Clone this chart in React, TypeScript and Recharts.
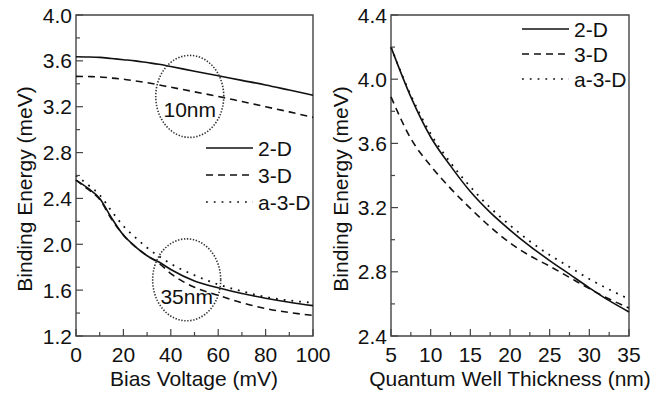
import React from 'react'
import {
  LineChart,
  Line,
  XAxis,
  YAxis,
  ReferenceArea,
  ReferenceDot,
  Legend,
} from 'recharts'

// left panel: binding energy vs bias voltage
const biasVoltage = [0, 5, 10, 15, 20, 25, 30, 35, 40, 50, 60, 70, 80, 90, 100]
const bias2D10nm = [3.636, 3.634, 3.63, 3.62, 3.61, 3.6, 3.585, 3.57, 3.55, 3.51, 3.47, 3.43, 3.39, 3.345, 3.3]
const bias3D10nm = [3.465, 3.463, 3.46, 3.45, 3.44, 3.425, 3.41, 3.39, 3.37, 3.33, 3.29, 3.245, 3.2, 3.155, 3.107]
const bias2D35nm = [2.56, 2.49, 2.4, 2.23, 2.08, 1.98, 1.9, 1.845, 1.78, 1.68, 1.62, 1.57, 1.53, 1.495, 1.465]
const bias3D35nm = [2.56, 2.48, 2.39, 2.22, 2.08, 1.98, 1.9, 1.835, 1.745, 1.625, 1.555, 1.49, 1.44, 1.405, 1.38]
const biasA3D35nm = [2.6, 2.52, 2.43, 2.29, 2.16, 2.06, 1.97, 1.895, 1.83, 1.73, 1.65, 1.59, 1.54, 1.51, 1.49]

// right panel: binding energy vs well thickness
const thickness = [5, 7.5, 10, 12.5, 15, 17.5, 20, 22.5, 25, 27.5, 30, 32.5, 35]
const thick2D = [4.2, 3.89, 3.64, 3.46, 3.3, 3.17, 3.06, 2.96, 2.87, 2.785, 2.7, 2.62, 2.55]
const thick3D = [3.89, 3.63, 3.46, 3.32, 3.195, 3.08, 2.98, 2.9, 2.835, 2.765, 2.695, 2.63, 2.575]
const thickA3D = [4.2, 3.9, 3.66, 3.48, 3.33, 3.2, 3.09, 2.99, 2.905, 2.83, 2.755, 2.69, 2.63]

// ticks
const leftXTicks = [0, 10, 20, 30, 40, 50, 60, 70, 80, 90, 100]
const leftXLabels = [0, 20, 40, 60, 80, 100]
const leftYTicks = [1.2, 1.4, 1.6, 1.8, 2.0, 2.2, 2.4, 2.6, 2.8, 3.0, 3.2, 3.4, 3.6, 3.8, 4.0]
const leftYLabels = [1.2, 1.6, 2.0, 2.4, 2.8, 3.2, 3.6, 4.0]
const rightXTicks = [5, 7.5, 10, 12.5, 15, 17.5, 20, 22.5, 25, 27.5, 30, 32.5, 35]
const rightXLabels = [5, 10, 15, 20, 25, 30, 35]
const rightYTicks = [2.4, 2.6, 2.8, 3.0, 3.2, 3.4, 3.6, 3.8, 4.0, 4.2, 4.4]
const rightYLabels = [2.4, 2.8, 3.2, 3.6, 4.0, 4.4]

const seriesNames = ['2-D', '3-D', 'a-3-D']

const biasData = biasVoltage.map((v, i) => ({
  v,
  d2a: bias2D10nm[i],
  d3a: bias3D10nm[i],
  d2b: bias2D35nm[i],
  d3b: bias3D35nm[i],
  a3b: biasA3D35nm[i],
}))

const thickData = thickness.map((t, i) => ({
  t,
  d2: thick2D[i],
  d3: thick3D[i],
  a3: thickA3D[i],
}))

const FONT = '"Liberation Sans", Arial, Helvetica, sans-serif'
const FS = 21
const INK = '#111'
const FRAME = '#444'
const DASH = '7 5'
const DOT = '1.8 6'

const isIn = (list: number[], v: number) => list.some((m) => Math.abs(m - v) < 1e-6)

const makeXTick = (labels: number[]) => (props: any) => {
  const { x, y, payload } = props
  const major = isIn(labels, payload.value)
  return (
    <g>
      <line x1={x} x2={x} y1={y} y2={y - (major ? 7 : 4)} stroke={FRAME} strokeWidth={1.2} />
      {major && (
        <text x={x} y={y + 18} textAnchor="middle" dominantBaseline="central" fontSize={FS} fontFamily={FONT} fill={INK}>
          {payload.value}
        </text>
      )}
    </g>
  )
}

const makeYTick = (labels: number[]) => (props: any) => {
  const { x, y, payload } = props
  const major = isIn(labels, payload.value)
  return (
    <g>
      <line x1={x} x2={x + (major ? 7 : 4)} y1={y} y2={y} stroke={FRAME} strokeWidth={1.2} />
      {major && (
        <text x={x - 4} y={y} textAnchor="end" dominantBaseline="central" fontSize={FS} fontFamily={FONT} fill={INK}>
          {payload.value.toFixed(1)}
        </text>
      )}
    </g>
  )
}

const yTitle = (cx: number, cy: number) => (props: any) => (
  <text
    x={cx}
    y={cy}
    transform={`rotate(-90 ${cx} ${cy})`}
    textAnchor="middle"
    dominantBaseline="central"
    fontSize={FS}
    fontFamily={FONT}
    fill={INK}
  >
    {props.value}
  </text>
)

const xTitle = (cx: number, cy: number) => (props: any) => (
  <text x={cx} y={cy} textAnchor="middle" dominantBaseline="central" fontSize={FS} fontFamily={FONT} fill={INK}>
    {props.value}
  </text>
)

const ellipse = (label: string, dy: number) => (props: any) => {
  const { cx, cy } = props
  if (cx == null || cy == null) return <g />
  return (
    <g>
      <ellipse cx={cx} cy={cy} rx={34} ry={41} fill="none" stroke="#333" strokeWidth={1.6} strokeDasharray="1.4 1.6" />
      <text x={cx} y={cy + dy} textAnchor="middle" dominantBaseline="central" fontSize={FS} fontFamily={FONT} fill={INK}>
        {label}
      </text>
    </g>
  )
}

const LegendBox = ({ gap }: { gap: number }) => (
  <svg width={130} height={gap * 3 + 10} style={{ display: 'block', overflow: 'visible' }}>
    {seriesNames.map((name, i) => {
      const y = 12 + i * gap
      const dash = i === 0 ? undefined : i === 1 ? DASH : DOT
      return (
        <g key={name}>
          <line x1={0} x2={47} y1={y} y2={y} stroke={INK} strokeWidth={1.6} strokeDasharray={dash} />
          <text x={52} y={y} dominantBaseline="central" fontSize={FS} fontFamily={FONT} fill={INK}>
            {name}
          </text>
        </g>
      )
    })}
  </svg>
)

const lineProps = {
  type: 'monotone' as const,
  stroke: INK,
  strokeWidth: 1.6,
  dot: false,
  activeDot: false,
  isAnimationActive: false,
}

export default function App() {
  return (
    <div style={{ position: 'absolute', left: 0, top: 0, width: 661, height: 393, background: '#fff' }}>
      <div style={{ position: 'absolute', left: 0, top: 0 }}>
        <LineChart width={332} height={393} data={biasData} margin={{ top: 15, right: 19, bottom: 7, left: 0 }}>
          <XAxis
            dataKey="v"
            type="number"
            domain={[0, 100]}
            ticks={leftXTicks}
            interval={0}
            height={50}
            axisLine={false}
            tickLine={false}
            tickSize={0}
            tickMargin={0}
            tick={makeXTick(leftXLabels)}
            label={{ value: 'Bias Voltage (mV)', content: xTitle(194, 378) }}
          />
          <YAxis
            type="number"
            domain={[1.2, 4.0]}
            ticks={leftYTicks}
            interval={0}
            width={76}
            axisLine={false}
            tickLine={false}
            tickSize={0}
            tickMargin={0}
            tick={makeYTick(leftYLabels)}
            label={{ value: 'Binding Energy (meV)', content: yTitle(24, 189) }}
          />
          <Line dataKey="d2a" {...lineProps} />
          <Line dataKey="d3a" {...lineProps} strokeDasharray={DASH} />
          <Line dataKey="d2b" {...lineProps} />
          <Line dataKey="d3b" {...lineProps} strokeDasharray={DASH} />
          <Line dataKey="a3b" {...lineProps} strokeDasharray={DOT} strokeWidth={1.8} />
          <ReferenceDot x={48} y={3.29} r={0} shape={ellipse('10nm', 13)} />
          <ReferenceDot x={46.7} y={1.69} r={0} shape={ellipse('35nm', 17)} />
          <ReferenceArea x1={0} x2={100} y1={1.2} y2={4.0} fill="none" stroke={FRAME} strokeWidth={1.4} />
          <Legend
            layout="horizontal"
            verticalAlign="middle"
            align="center"
            content={() => <LegendBox gap={27} />}
            wrapperStyle={{ left: 206, top: 136, width: 130 }}
          />
        </LineChart>
      </div>
      <div style={{ position: 'absolute', left: 320, top: 0 }}>
        <LineChart width={341} height={393} data={thickData} margin={{ top: 15, right: 32, bottom: 7, left: 0 }}>
          <XAxis
            dataKey="t"
            type="number"
            domain={[5, 35]}
            ticks={rightXTicks}
            interval={0}
            height={50}
            axisLine={false}
            tickLine={false}
            tickSize={0}
            tickMargin={0}
            tick={makeXTick(rightXLabels)}
            label={{ value: 'Quantum Well Thickness (nm)', content: xTitle(190, 378) }}
          />
          <YAxis
            type="number"
            domain={[2.4, 4.4]}
            ticks={rightYTicks}
            interval={0}
            width={71}
            axisLine={false}
            tickLine={false}
            tickSize={0}
            tickMargin={0}
            tick={makeYTick(rightYLabels)}
            label={{ value: 'Binding Energy (meV)', content: yTitle(20, 189) }}
          />
          <Line dataKey="d2" {...lineProps} />
          <Line dataKey="d3" {...lineProps} strokeDasharray={DASH} />
          <Line dataKey="a3" {...lineProps} strokeDasharray={DOT} strokeWidth={1.8} />
          <ReferenceArea x1={5} x2={35} y1={2.4} y2={4.4} fill="none" stroke={FRAME} strokeWidth={1.4} />
          <Legend
            layout="horizontal"
            verticalAlign="middle"
            align="center"
            content={() => <LegendBox gap={25} />}
            wrapperStyle={{ left: 202, top: 17, width: 130 }}
          />
        </LineChart>
      </div>
    </div>
  )
}
